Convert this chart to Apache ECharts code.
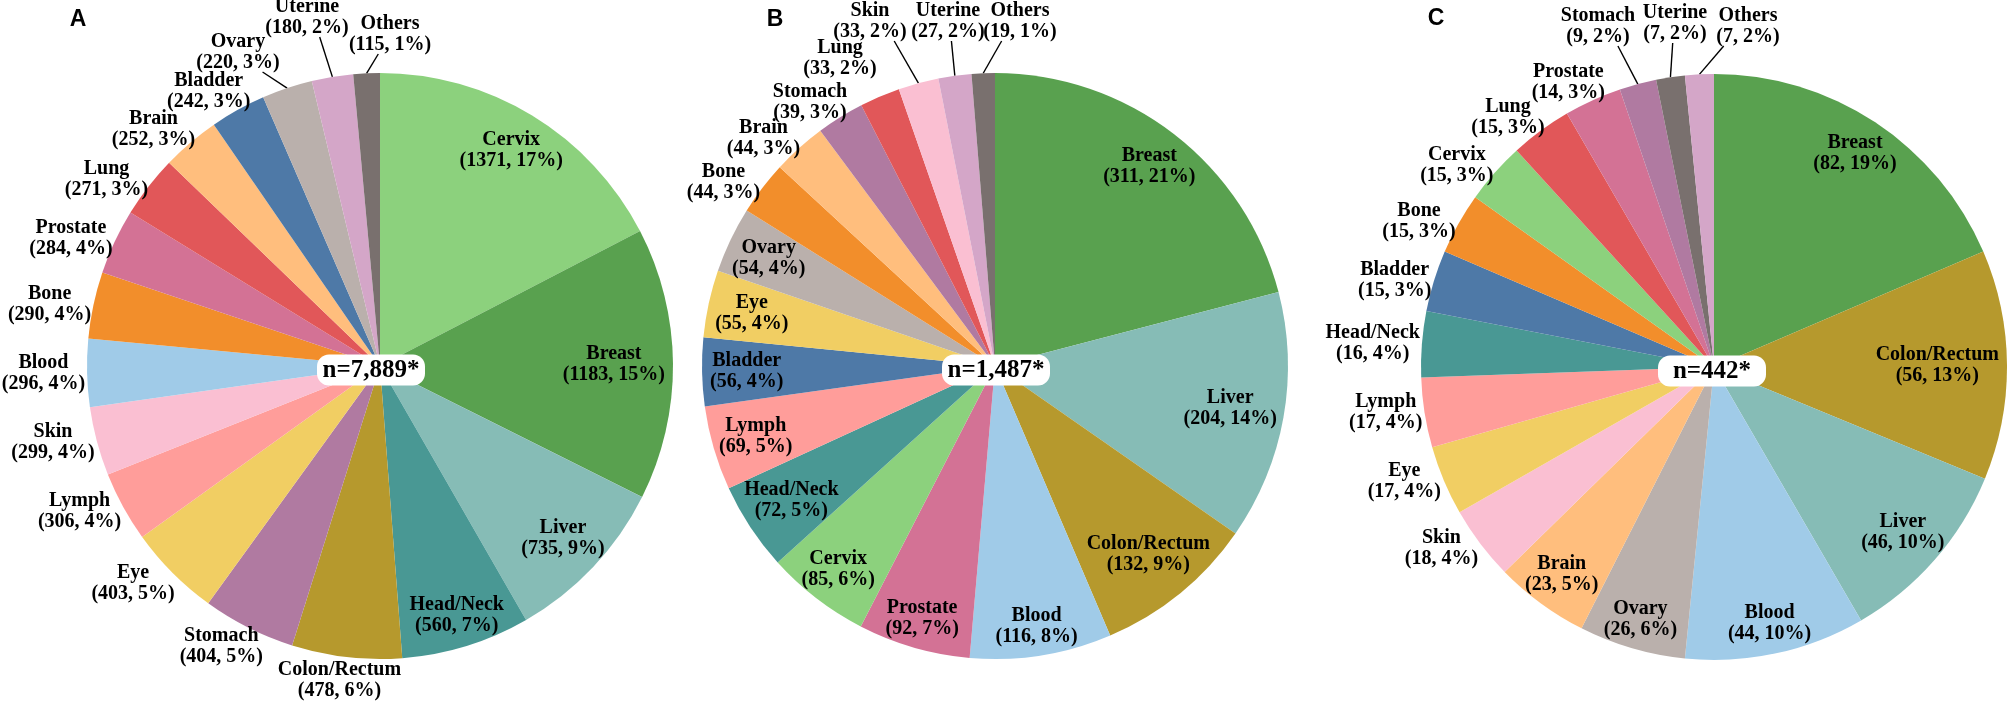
<!DOCTYPE html>
<html>

<head>
    <meta charset="utf-8" />
    <script type="text/javascript" src="https://cdn.jsdelivr.net/npm/echarts@6/dist/echarts.min.js"></script>
    <title></title>
    <style>
        html, body { margin: 0; padding: 0; background: #fff; }
        #main { width: 2008px; height: 703px; }
    </style>
</head>

<body>
    <div id="main"></div>
    <script type="text/javascript">
    // ---- data ----
    // A: all cases
    var namesA = ['Cervix', 'Breast', 'Liver', 'Head/Neck', 'Colon/Rectum', 'Stomach', 'Eye', 'Lymph', 'Skin', 'Blood', 'Bone', 'Prostate', 'Lung', 'Brain', 'Bladder', 'Ovary', 'Uterine', 'Others'];
    var valuesA = [1371, 1183, 735, 560, 478, 404, 403, 306, 299, 296, 290, 284, 271, 252, 242, 220, 180, 115];
    var pctA = [17, 15, 9, 7, 6, 5, 5, 4, 4, 4, 4, 4, 3, 3, 3, 3, 2, 1];
    // B
    var namesB = ['Breast', 'Liver', 'Colon/Rectum', 'Blood', 'Prostate', 'Cervix', 'Head/Neck', 'Lymph', 'Bladder', 'Eye', 'Ovary', 'Bone', 'Brain', 'Stomach', 'Lung', 'Skin', 'Uterine', 'Others'];
    var valuesB = [311, 204, 132, 116, 92, 85, 72, 69, 56, 55, 54, 44, 44, 39, 33, 33, 27, 19];
    var pctB = [21, 14, 9, 8, 7, 6, 5, 5, 4, 4, 4, 3, 3, 3, 2, 2, 2, 1];
    // C
    var namesC = ['Breast', 'Colon/Rectum', 'Liver', 'Blood', 'Ovary', 'Brain', 'Skin', 'Eye', 'Lymph', 'Head/Neck', 'Bladder', 'Bone', 'Cervix', 'Lung', 'Prostate', 'Stomach', 'Uterine', 'Others'];
    var valuesC = [82, 56, 46, 44, 26, 23, 18, 17, 17, 16, 15, 15, 15, 15, 14, 9, 7, 7];
    var pctC = [19, 13, 10, 10, 6, 5, 4, 4, 4, 4, 3, 3, 3, 3, 3, 2, 2, 2];

    var panels = ['A', 'B', 'C'];
    var totals = [7889, 1487, 442];

    // ---- styles / layout ----
    var colorMap = {
        'Cervix': '#8CD17D', 'Breast': '#59A14F', 'Liver': '#86BCB6', 'Head/Neck': '#499894',
        'Colon/Rectum': '#B6992D', 'Stomach': '#B07AA1', 'Eye': '#F1CE63', 'Lymph': '#FF9D9A',
        'Skin': '#FABFD2', 'Blood': '#A0CBE8', 'Bone': '#F28E2B', 'Prostate': '#D37295',
        'Lung': '#E15759', 'Brain': '#FFBE7D', 'Bladder': '#4E79A7', 'Ovary': '#BAB0AC',
        'Uterine': '#D4A6C8', 'Others': '#79706E'
    };
    // panel C has the last two colours the other way round
    var colorFix = [{}, {}, { 'Uterine': '#79706E', 'Others': '#D4A6C8' }];

    var R = 293;
    var centers = [[380, 366], [995, 366], [1714, 367]];
    var letterPos = [[78, 20], [775, 20], [1436, 19]];
    var nBoxShift = [-9, 1, -2];
    var insideCount = [4, 11, 6]; // first n slices carry their label inside
    // labels that were pushed up above the pie: offset from centre, leader line yes/no
    var raised = [
        { 'Ovary': [-142, -314, 1], 'Uterine': [-73, -349, 1], 'Others': [10, -332, 1] },
        { 'Lung': [-155, -308, 0], 'Skin': [-125, -345, 1], 'Uterine': [-47, -345, 1], 'Others': [25, -345, 1] },
        { 'Stomach': [-116, -341, 1], 'Uterine': [-39, -344, 1], 'Others': [34, -341, 1] }
    ];

    var sets = [[namesA, valuesA, pctA], [namesB, valuesB, pctB], [namesC, valuesC, pctC]];

    // mid angle of every slice, degrees clockwise from 12 o'clock
    function midAngles(vals) {
        var tot = 0, acc = 0;
        vals.forEach(function(v) { tot += v; });
        return vals.map(function(v) {
            var m = (acc + v / 2) / tot * 360;
            acc += v;
            return m;
        });
    }
    var mids = sets.map(function(s) { return midAngles(s[1]); });

    function place(i, p) {
        var j = p.dataIndex;
        var name = sets[i][0][j];
        var c = centers[i];
        var hw = p.labelRect.width / 2, hh = p.labelRect.height / 2;
        var m = mids[i][j];
        var r = raised[i][name];
        if (r) {
            var lx = c[0] + r[0], ly = c[1] + r[1];
            var res = { x: lx, y: ly, align: 'center', verticalAlign: 'middle' };
            if (r[2]) {
                var a0 = m * Math.PI / 180;
                var rx = c[0] + R * Math.sin(a0), ry = c[1] - R * Math.cos(a0);
                var sx = (lx + rx) / 2, sy = ly + hh - 1;
                res.labelLinePoints = [[rx, ry], [sx, sy], [sx, sy]];
            }
            return res;
        }
        var t = m, d;
        if (j < insideCount[i]) {
            var ai = t * Math.PI / 180;
            d = R - 8 - Math.sqrt(Math.pow(hw * Math.sin(ai), 2) + Math.pow(hh * Math.cos(ai), 2));
        } else {
            var delta = m - 270;
            t = m - 3.5 * Math.sin(2 * delta * Math.PI / 180);
            var ao = t * Math.PI / 180;
            d = R + 2 + Math.sqrt(Math.pow(hw * Math.sin(ao), 2) + Math.pow(hh * Math.cos(ao), 2));
        }
        var a = t * Math.PI / 180;
        return {
            x: c[0] + d * Math.sin(a),
            y: c[1] - d * Math.cos(a),
            align: 'center',
            verticalAlign: 'middle'
        };
    }

    var series = sets.map(function(s, i) {
        return {
            type: 'pie',
            center: centers[i],
            radius: R,
            startAngle: 90,
            clockwise: true,
            avoidLabelOverlap: false,
            silent: true,
            animation: false,
            itemStyle: { borderWidth: 0 },
            label: {
                show: true,
                position: 'outside',
                formatter: function(p) {
                    return p.name + '\n(' + s[1][p.dataIndex] + ', ' + s[2][p.dataIndex] + '%)';
                },
                fontFamily: 'Liberation Serif',
                fontWeight: 'bold',
                fontSize: 20,
                lineHeight: 21,
                color: '#000'
            },
            labelLine: { show: false, lineStyle: { color: '#000', width: 1.4 } },
            data: s[0].map(function(n, j) {
                var d = {
                    name: n,
                    value: s[1][j],
                    itemStyle: { color: colorFix[i][n] || colorMap[n] }
                };
                if (raised[i][n] && raised[i][n][2]) d.labelLine = { show: true };
                return d;
            }),
            labelLayout: function(p) { return place(i, p); }
        };
    });

    var graphics = [];
    panels.forEach(function(t, i) {
        graphics.push({
            type: 'text', x: letterPos[i][0], y: letterPos[i][1], z: 100,
            style: { text: t, font: 'bold 23px "Liberation Sans"', fill: '#000', align: 'center', verticalAlign: 'middle' }
        });
        var bx = centers[i][0] + nBoxShift[i], by = centers[i][1] + 4;
        graphics.push({
            type: 'rect', z: 100,
            shape: { x: bx - 54, y: by - 15.5, width: 108, height: 31, r: 12 },
            style: { fill: '#fff' }
        });
        graphics.push({
            type: 'text', x: bx, y: by + 1, z: 101,
            style: {
                text: 'n=' + totals[i].toLocaleString('en-US') + '*',
                font: 'bold 25px "Liberation Serif"', fill: '#000',
                align: 'center', verticalAlign: 'middle'
            }
        });
    });

    var myChart = echarts.init(document.getElementById('main'));
    myChart.setOption({
        animation: false,
        graphic: graphics,
        series: series
    });
    </script>
</body>

</html>
